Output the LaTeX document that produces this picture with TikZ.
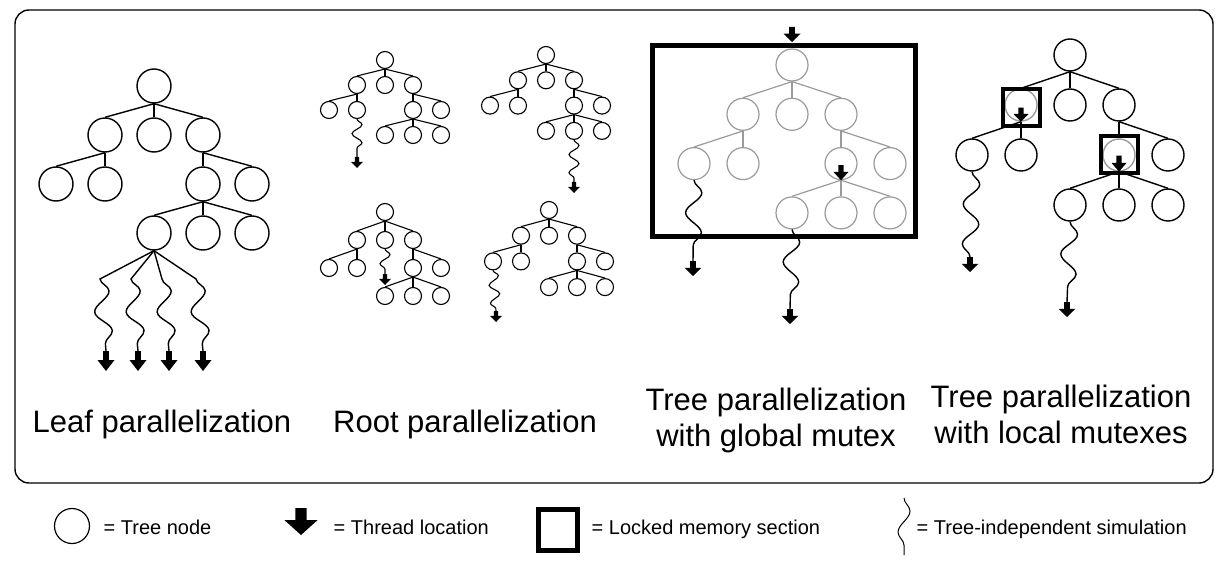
\documentclass[tikz,border=0pt]{standalone}
\usepackage{fontspec}
\setmainfont{Liberation Sans}
\usetikzlibrary{decorations.pathmorphing}
\definecolor{LockGray}{HTML}{9A9A9A}
\tikzset{
  pics/mctree/.style n args={3}{code={
    \foreach \n/\i/\j in {r/0/0,a/-1/1,b/0/1,c/1/1,a1/-2/2,a2/-1/2,c1/1/2,c2/2/2,c11/0/3,c12/1/3,c13/2/3}
      \node[circle,draw,inner sep=0pt,minimum size=#3,mc \n/.try] (-\n) at (\i*#1,\j*#2) {};
    \foreach \p/\c in {r/a,r/b,r/c,a/a1,a/a2,c/c1,c/c2,c1/c11,c1/c12,c1/c13}
      \draw (-\p.south) -- (-\c.north);
  }},
  pics/thread/.style 2 args={code={
    \fill (-0.17*#1,0) -- (0.17*#1,0) -- (0.17*#1,0.45*#2) -- (0.5*#1,0.45*#2)
      -- (0,#2) -- (-0.5*#1,0.45*#2) -- (-0.17*#1,0.45*#2) -- cycle;
  }},
}

\begin{document}
\begin{tikzpicture}[x=0.5pt,y=-0.5pt,line width=0.7pt,
  wavy/.style={decoration={snake,amplitude=4pt,segment length=20pt}},
  swavy/.style={decoration={snake,amplitude=2.5pt,segment length=9pt}},
  lockbox/.style={draw,line width=2pt,minimum size=18.5pt,inner sep=0pt},
  title/.style={font=\fontsize{15.5}{18}\selectfont,align=center,anchor=base,inner sep=0pt},
  legtext/.style={font=\fontsize{10}{12}\selectfont,anchor=base west,inner sep=0pt}]
\useasboundingbox (0,0) rectangle (1230,572);
\draw[rounded corners=7pt] (15,10) rectangle (1213,483);

% leaf parallelization
\pic (lf) at (154,86) {mctree={49}{49}{17pt}};
\foreach \t/\e [count=\k] in {100/106,131/138,162/169,196/203}{
  \coordinate (lt\k) at (\t,279);
  \coordinate (le\k) at (\e,351);
  \draw (lf-c11.south) -- (lt\k) decorate[wavy]{-- (le\k)};
  \pic at (le\k) {thread={17}{20}};
}
\node[title] (lftext) at (162,432) {Leaf parallelization};

% root parallelization
\begin{scope}[line width=0.55pt]
\pic (rp1) at (385,60) {mctree={28}{25}{8.5pt}};
\pic (rp2) at (546,55) {mctree={28}{25.3}{8.5pt}};
\pic (rp3) at (385,212) {mctree={28}{28}{8.5pt}};
\pic (rp4) at (549,210) {mctree={28}{25.7}{8.5pt}};
\coordinate (r1e) at (357,157);
\coordinate (r2e) at (574,182);
\coordinate (r3e) at (385,274);
\coordinate (r4e) at (496,311);
\draw[decorate,swavy] (rp1-a2.south) -- (r1e);
\draw[decorate,swavy] (rp2-c12.south) -- (r2e);
\draw[decorate,swavy] (rp3-b.south) -- (r3e);
\draw[decorate,swavy] (rp4-a1.south) -- (r4e);
\foreach \k in {1,...,4} \pic at (r\k e) {thread={12}{11}};
\end{scope}
\node[title] (rptext) at (465,432) {Root parallelization};

% tree parallelization, global mutex
\pic[color=LockGray,line width=0.6pt] (gm) at (792,65) {mctree={49}{49.3}{16pt}};
\draw[line width=2.5pt] (652,46) rectangle (915,237);
\pic at (792,27) {thread={17}{15}};
\pic at ([yshift=7.5pt]gm-c1.south) {thread={15}{15}};
\coordinate (g1e) at (693,261);
\coordinate (g2e) at (790,309);
\draw[decorate,wavy] (gm-a1.south) -- (g1e);
\draw[decorate,wavy] (gm-c11.south) -- (g2e);
\pic at (g1e) {thread={17}{15}};
\pic at (g2e) {thread={17}{15}};
\node[title] (gmtext) at (776,446) {Tree parallelization\\with global mutex};

% tree parallelization, local mutexes
\pic[mc a/.style={draw=LockGray},mc c1/.style={draw=LockGray}] (lm) at (1070,55) {mctree={49}{50}{16pt}};
\node[lockbox] (lka) at ([yshift=-1.5pt]lm-a) {};
\node[lockbox] (lkc) at (lm-c1) {};
\pic at ([yshift=7pt]lm-a.south) {thread={15}{14}};
\pic at ([yshift=8pt]lm-c1.south) {thread={15}{16}};
\coordinate (l1e) at (970,257);
\coordinate (l2e) at (1067,302);
\draw[decorate,wavy] (lm-a1.south) -- (l1e);
\draw[decorate,wavy] (lm-c11.south) -- (l2e);
\pic at (l1e) {thread={17}{15}};
\pic at (l2e) {thread={17}{15}};
\node[title] (lmtext) at (1061,443) {Tree parallelization\\with local mutexes};

% legend
\node[circle,draw,inner sep=0pt,minimum size=17.5pt,line width=0.6pt] (lgnode) at (72,526) {};
\node[legtext] (lgnodet) at (103,534) {= Tree node};
\pic at (301,508) {thread={33}{27}};
\node[legtext] (lgthread) at (333,534) {= Thread location};
\node[draw,line width=2.5pt,minimum width=19.5pt,minimum height=20.5pt,inner sep=0pt] (lgbox) at (558,530) {};
\node[legtext] (lgboxt) at (591,534) {= Locked memory section};
\coordinate (lgw1) at (904,498);
\coordinate (lgw2) at (904,555);
\draw[decorate,decoration={snake,amplitude=3pt,segment length=21pt},line width=0.5pt] (lgw1) -- (lgw2);
\node[legtext] (lgwavet) at (916,534) {= Tree-independent simulation};
\end{tikzpicture}
\end{document}
